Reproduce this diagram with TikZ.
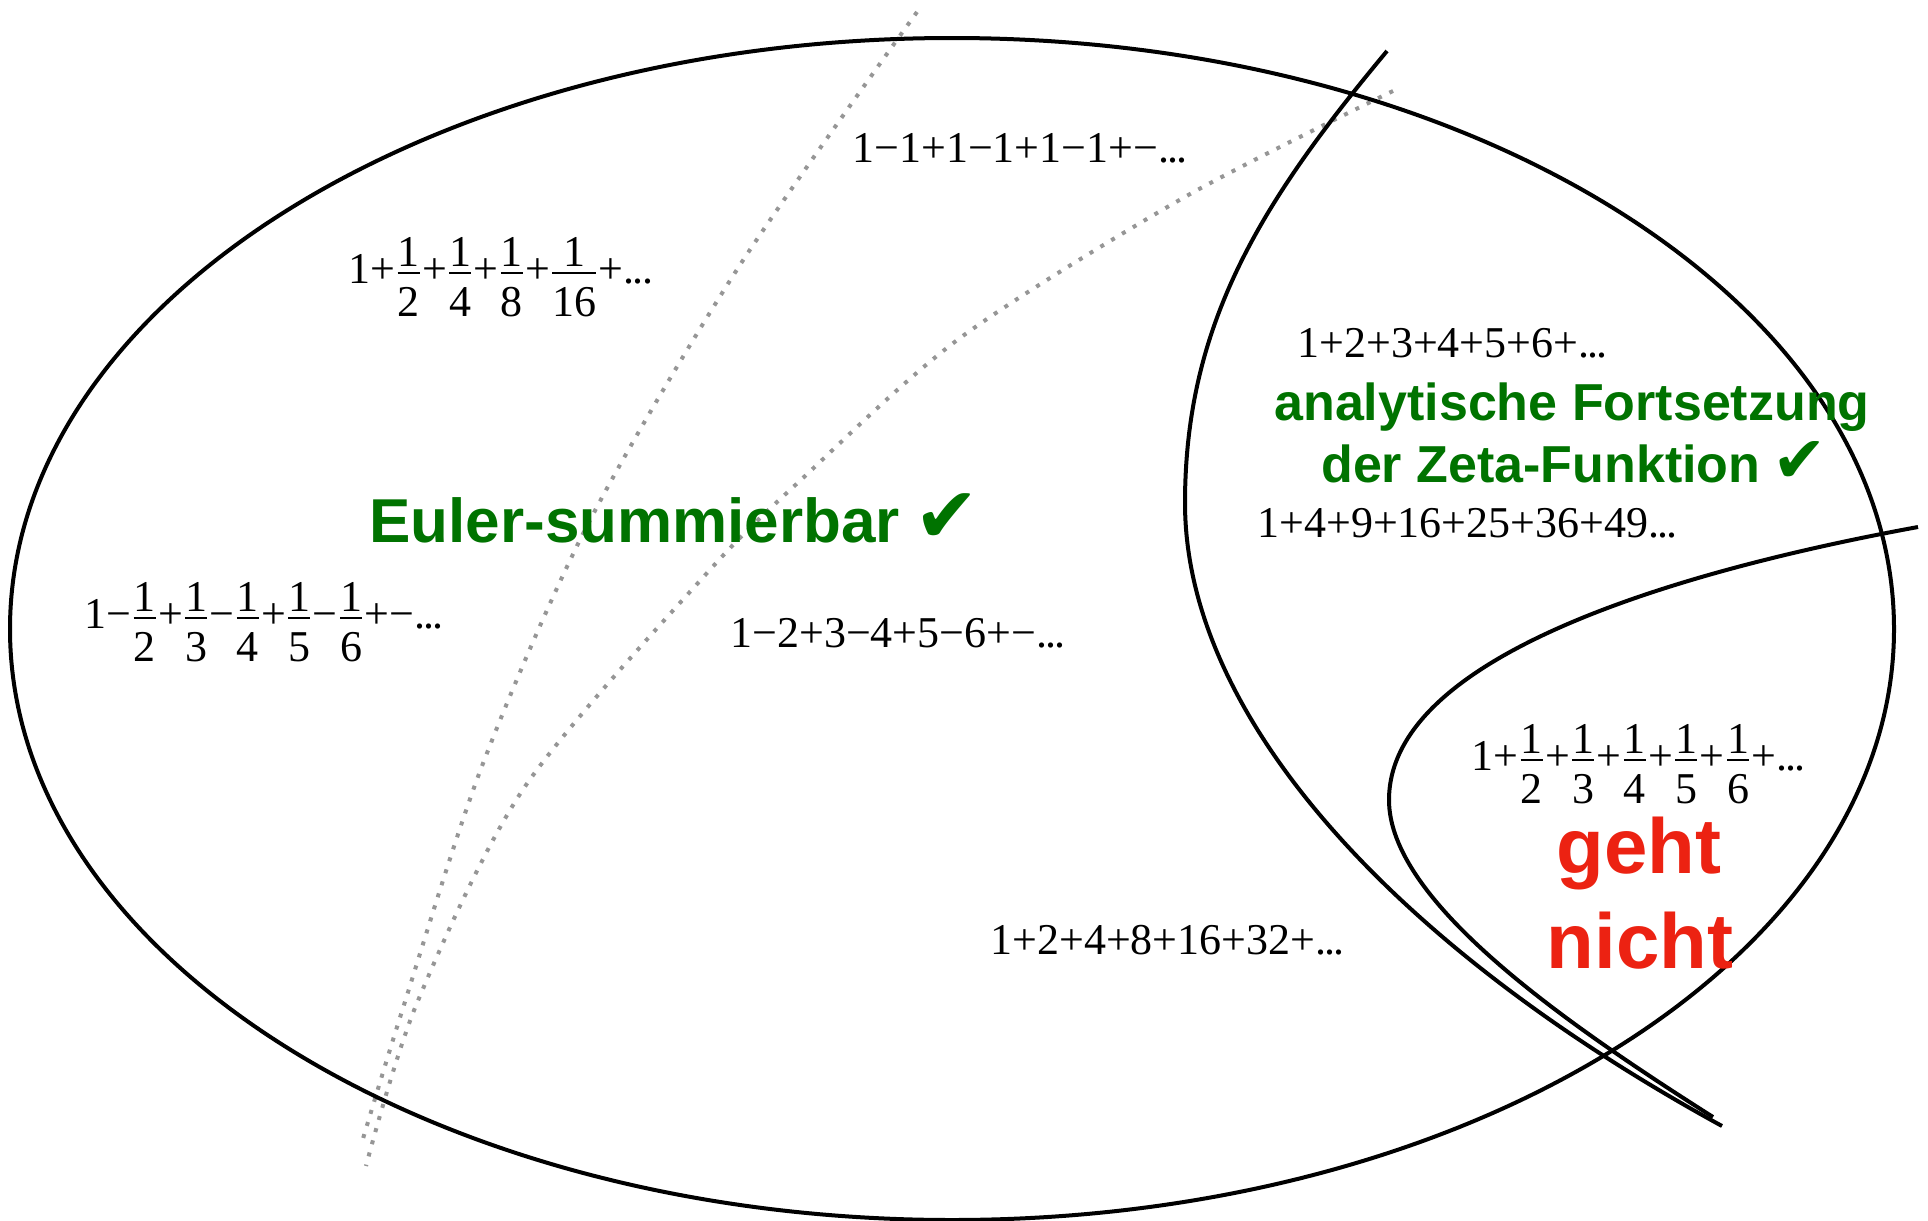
\documentclass[tikz,border=0pt]{standalone}
\usepackage{fontspec}
\usepackage{amsmath}
\setmainfont{Liberation Serif}
\newfontfamily\hvfont{Liberation Sans}
\newfontfamily\dvfont{DejaVu Sans}
\definecolor{eugreen}{RGB}{0,115,0}
\definecolor{nored}{RGB}{236,34,18}
\definecolor{dotgray}{RGB}{150,150,150}
\newcommand\dts{.\kern-0.04em.\kern-0.04em.}
\newcommand\fr[2]{$\genfrac{}{}{0.9pt}{1}{\hbox{#1}}{\hbox{\rule{0pt}{0.93em}#2}}$}
\newcommand\chk{\kern-0.05em\scalebox{1.25}{\dvfont\char"2714}}
\tikzset{
  curve/.style={line width=2pt, black},
  dotline/.style={line width=2pt, dotgray, dash pattern=on 2pt off 4.3pt},
  series/.style={inner sep=0pt, anchor=base west, font=\fontsize{22}{22}\selectfont},
  greentext/.style={inner sep=0pt, text=eugreen, font=\hvfont\bfseries\fontsize{#1}{#1}\selectfont},
  redtext/.style={inner sep=0pt, text=nored, font=\hvfont\bfseries\fontsize{39}{47.5}\selectfont, align=center}
}
\begin{document}
\begin{tikzpicture}[x=0.5pt,y=-0.5pt]
\useasboundingbox (0,0) rectangle (1928,1221);
\fill[white] (0,0) rectangle (1928,1221);
% dotted curves
\draw[dotline] plot[smooth] coordinates {(917,12) (738,268) (588,524) (482,766) (403,1008) (362,1142)};
\draw[dotline] plot[smooth] coordinates {(1393,91) (1183,198) (960,338) (804,477) (707,573) (524,788) (417,1003) (366,1166)};
% main ellipse
\draw[curve] (952,629) ellipse [x radius=942, y radius=591];
% analytic continuation region
\draw[curve] (1387,51) .. controls (1262,201) and (1185,323) .. (1185,503)
  .. controls (1185,720) and (1400,950) .. (1722,1126);
% geht nicht region
\draw[curve] (1918,527) .. controls (1700,567) and (1389,650) .. (1389,800)
  .. controls (1389,900) and (1560,1020) .. (1713,1117);
% series
\node[series] (e1) at (852,162) {1−1+1−1+1−1+−\dts};
\node[series] (e2) at (348,283) {1+\fr{1}{2}+\fr{1}{4}+\fr{1}{8}+\fr{1}{16}+\dts};
\node[series] (e3) at (84,628) {1−\fr{1}{2}+\fr{1}{3}−\fr{1}{4}+\fr{1}{5}−\fr{1}{6}+−\dts};
\node[series] (e4) at (730,647) {1−2+3−4+5−6+−\dts};
\node[series] (e5) at (1297,357) {1+2+3+4+5+6+\dts};
\node[series] (e6) at (1257,537) {1+4+9+16+25+36+49\dts};
\node[series] (e7) at (990,954) {1+2+4+8+16+32+\dts};
\node[series] (e8) at (1471,770) {1+\fr{1}{2}+\fr{1}{3}+\fr{1}{4}+\fr{1}{5}+\fr{1}{6}+\dts};
% labels
\node[greentext=31, anchor=base west] (euler) at (369,542) {Euler-summierbar \chk};
\node[greentext=26, anchor=base] (ana1) at (1572,420) {analytische Fortsetzung};
\node[greentext=26, anchor=base] (ana2) at (1574,482) {der Zeta-Funktion \chk};
\node[redtext, anchor=base] (geht) at (1639,873) {geht};
\node[redtext, anchor=base] (nicht) at (1640,968) {nicht};
\end{tikzpicture}
\end{document}
